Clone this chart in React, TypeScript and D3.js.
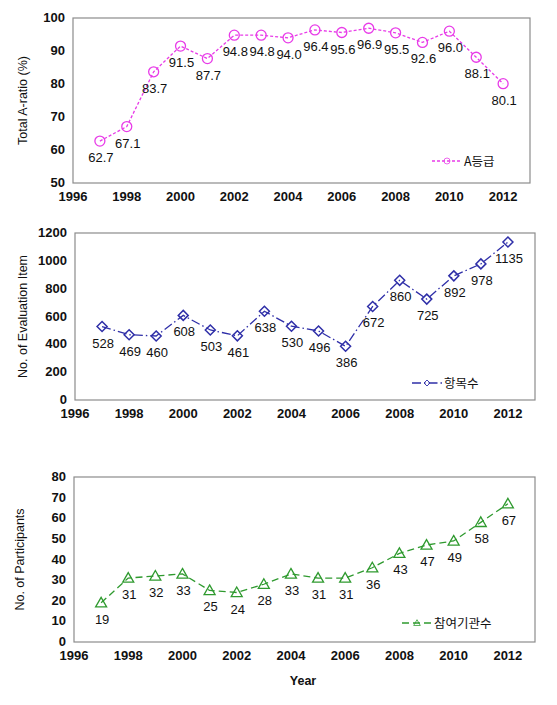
import React from "react";
import * as d3 from "d3";

const years = [1997, 1998, 1999, 2000, 2001, 2002, 2003, 2004, 2005, 2006, 2007, 2008, 2009, 2010, 2011, 2012];
const aRatio = [62.7, 67.1, 83.7, 91.5, 87.7, 94.8, 94.8, 94.0, 96.4, 95.6, 96.9, 95.5, 92.6, 96.0, 88.1, 80.1];
const evalItems = [528, 469, 460, 608, 503, 461, 638, 530, 496, 386, 672, 860, 725, 892, 978, 1135];
const participants = [19, 31, 32, 33, 25, 24, 28, 33, 31, 31, 36, 43, 47, 49, 58, 67];
const xTicks = [1996, 1998, 2000, 2002, 2004, 2006, 2008, 2010, 2012];
const yTicks1 = [50, 60, 70, 80, 90, 100];
const yTicks2 = [0, 200, 400, 600, 800, 1000, 1200];
const yTicks3 = [0, 10, 20, 30, 40, 50, 60, 70, 80];

type PanelProps = {
  left: number; right: number; top: number; bottom: number;
  yDomain: [number, number]; yTicks: number[]; values: number[];
  color: string; dash: string; marker: "circle" | "diamond" | "triangle";
  yTitle: string; yTitleX: number; legend: string; legendX: number; legendY: number;
  fmt: (v: number) => string;
};

const font = "'Liberation Sans', Arial, sans-serif";

function Marker({ type, x, y, color }: { type: string; x: number; y: number; color: string }) {
  if (type === "circle") return <circle cx={x} cy={y} r={5} fill="none" stroke={color} strokeWidth={1.3} />;
  if (type === "diamond") {
    const s = 5;
    return <path d={`M${x},${y - s}L${x + s},${y}L${x},${y + s}L${x - s},${y}Z`} fill="none" stroke={color} strokeWidth={1.5} />;
  }
  const s = 5.5;
  return <path d={`M${x},${y - s}L${x + s},${y + s * 0.75}L${x - s},${y + s * 0.75}Z`} fill="none" stroke={color} strokeWidth={1.3} />;
}

function Panel(p: PanelProps) {
  const x = d3.scaleLinear().domain([1996, 2013]).range([p.left, p.right]);
  const y = d3.scaleLinear().domain(p.yDomain).range([p.bottom, p.top]);
  const line = d3.line<number>().x((_, i) => x(years[i])).y((v) => y(v));
  const midY = (p.top + p.bottom) / 2;
  return (
    <g>
      <rect x={p.left} y={p.top} width={p.right - p.left} height={p.bottom - p.top} fill="white" stroke="#8c8c8c" strokeWidth={1.2} />
      {p.yTicks.map((t) => (
        <text key={t} x={p.left - 8} y={y(t) + 4} textAnchor="end" fontSize={13} fontWeight="bold" fontFamily={font} fill="#111">{t}</text>
      ))}
      {xTicks.map((t) => (
        <text key={t} x={x(t)} y={p.bottom + 18} textAnchor="middle" fontSize={13} fontWeight="bold" fontFamily={font} fill="#111">{t}</text>
      ))}
      <text transform={`translate(${p.yTitleX},${midY}) rotate(-90)`} textAnchor="middle" fontSize={12.5} fontFamily={font} fill="#111">{p.yTitle}</text>
      <path d={line(p.values) || ""} fill="none" stroke={p.color} strokeWidth={1.3} strokeDasharray={p.dash} />
      {p.values.map((v, i) => (
        <g key={i}>
          <Marker type={p.marker} x={x(years[i])} y={y(v)} color={p.color} />
          <text x={x(years[i]) + 1} y={y(v) + 21} textAnchor="middle" fontSize={13} fontFamily={font} fill="#111">{p.fmt(v)}</text>
        </g>
      ))}
      <g>
        <line x1={p.legendX} x2={p.legendX + 30} y1={p.legendY} y2={p.legendY} stroke={p.color} strokeWidth={1.3} strokeDasharray={p.dash} />
        <g transform={`translate(${p.legendX + 15},${p.legendY}) scale(0.6) translate(${-p.legendX - 15},${-p.legendY})`}>
          <Marker type={p.marker} x={p.legendX + 15} y={p.legendY} color={p.color} />
        </g>
        <text x={p.legendX + 32} y={p.legendY + 4.5} fontSize={12.5} fontFamily="'Noto Sans CJK KR', sans-serif" fill="#111">{p.legend}</text>
      </g>
    </g>
  );
}

export default function App() {
  return (
    <svg width={557} height={705} style={{ position: "absolute", left: 0, top: 0, background: "white" }}>
      <Panel left={73} right={530} top={18} bottom={183} yDomain={[50, 100]} yTicks={yTicks1} values={aRatio}
        color="#e83ce8" dash="3,2" marker="circle" yTitle="Total A-ratio (%)" yTitleX={27}
        legend="A등급" legendX={432} legendY={161} fmt={(v) => v.toFixed(1)} />
      <Panel left={75} right={535} top={233} bottom={400} yDomain={[0, 1200]} yTicks={yTicks2} values={evalItems}
        color="#2f2fa8" dash="9,3,1.5,3" marker="diamond" yTitle="No. of Evaluation Item" yTitleX={27}
        legend="항목수" legendX={412} legendY={383} fmt={(v) => String(v)} />
      <Panel left={74} right={535} top={477} bottom={642} yDomain={[0, 80]} yTicks={yTicks3} values={participants}
        color="#2f9a2f" dash="7,4" marker="triangle" yTitle="No. of Participants" yTitleX={24}
        legend="참여기관수" legendX={402} legendY={623} fmt={(v) => String(v)} />
      <text x={303} y={685} textAnchor="middle" fontSize={12.5} fontWeight="bold" fontFamily={font} fill="#111">Year</text>
    </svg>
  );
}
